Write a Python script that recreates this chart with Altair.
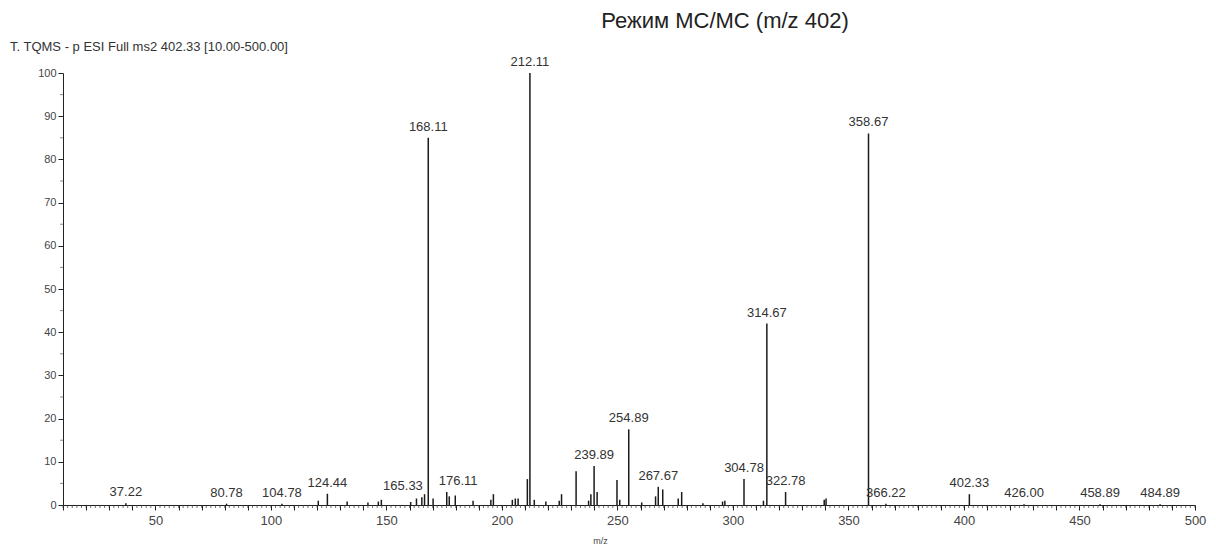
import altair as alt
import pandas as pd

# ---- data ----
peak_mz = [37.22, 80.78, 104.78, 120.5, 124.44, 133.0, 142.0, 146.5, 147.8, 160.5,
           163.0, 165.33, 166.5, 168.11, 170.2, 176.11, 177.2, 179.8, 187.5, 195.2,
           196.3, 204.5, 205.8, 207.0, 211.0, 212.11, 214.0, 219.0, 224.8, 225.8,
           232.1, 237.5, 238.5, 239.89, 241.2, 249.8, 251.0, 254.89, 260.5, 266.5,
           267.67, 269.6, 276.3, 277.8, 287.0, 295.5, 296.5, 304.78, 313.2, 314.67,
           322.78, 339.5, 340.3, 358.67, 366.22, 402.33, 426.00, 458.89, 484.89]
peak_int = [0.4, 0.3, 0.3, 1.0, 2.6, 0.8, 0.6, 0.8, 1.2, 0.7,
            1.5, 1.8, 2.5, 85.0, 1.5, 3.0, 2.0, 2.2, 1.0, 1.2,
            2.5, 1.2, 1.5, 1.5, 6.0, 100.0, 1.2, 0.8, 1.0, 2.5,
            7.8, 1.0, 2.5, 9.0, 3.0, 5.8, 1.2, 17.5, 0.6, 2.0,
            4.2, 3.6, 1.5, 3.0, 0.4, 0.8, 1.0, 6.0, 1.0, 42.0,
            3.0, 1.2, 1.5, 86.0, 0.3, 2.5, 0.2, 0.2, 0.2]

label_mz = [37.22, 80.78, 104.78, 124.44, 165.33, 168.11, 176.11, 212.11, 239.89,
            254.89, 267.67, 304.78, 314.67, 322.78, 358.67, 366.22, 402.33, 426.00,
            458.89, 484.89]
label_text = ["37.22", "80.78", "104.78", "124.44", "165.33", "168.11", "176.11",
              "212.11", "239.89", "254.89", "267.67", "304.78", "314.67", "322.78",
              "358.67", "366.22", "402.33", "426.00", "458.89", "484.89"]

x_ticks_major = list(range(10, 501, 10))   # labelled every 50
x_ticks_minor = list(range(10, 501, 2))
y_ticks_major = list(range(0, 101, 10))
y_ticks_minor = list(range(5, 100, 10))

title_text = "Режим МС/МС (m/z 402)"
header_text = "T. TQMS - p ESI Full ms2 402.33 [10.00-500.00]"

FONT = "Liberation Sans"

peaks = pd.DataFrame({"mz": peak_mz, "intensity": peak_int})
lookup = dict(zip(peak_mz, peak_int))
labels = pd.DataFrame({"mz": label_mz,
                       "intensity": [lookup[m] for m in label_mz],
                       "text": label_text})
header = pd.DataFrame({"t": [header_text]})
title_df = pd.DataFrame({"t": [title_text]})
xminor = pd.DataFrame({"mz": x_ticks_minor, "intensity": [0] * len(x_ticks_minor)})
yminor = pd.DataFrame({"intensity": y_ticks_minor, "mz": [10] * len(y_ticks_minor)})

xscale = alt.Scale(domain=[10, 500], nice=False, zero=False)
yscale = alt.Scale(domain=[0, 100], nice=False)

x_axis = alt.Axis(values=x_ticks_major, orient="bottom",
                  labelExpr="datum.value % 50 == 0 ? datum.label : ''",
                  labelOverlap=False, labelFlush=False, grid=False,
                  tickSize=5, tickColor="#222", domainColor="#222",
                  labelFont=FONT, labelFontSize=13, labelColor="#444",
                  labelPadding=4, title="m/z", titleFont=FONT,
                  titleFontSize=9, titleFontWeight="normal",
                  titleColor="#444", titleX=537, titleY=35,
                  titleBaseline="middle")
y_axis = alt.Axis(values=y_ticks_major, orient="left", grid=False,
                  labelOverlap=False, labelFlush=False,
                  tickSize=5, tickColor="#222", domainColor="#222",
                  labelFont=FONT, labelFontSize=11, labelColor="#444",
                  labelPadding=2, title="")

X = alt.X("mz:Q", scale=xscale, axis=x_axis)
Y = alt.Y("intensity:Q", scale=yscale, axis=y_axis)

rules = alt.Chart(peaks).mark_rule(color="#1a1a1a", strokeWidth=1.5).encode(
    x=X, y=Y, y2=alt.datum(0),
)

# minor ticks along the axes
xminor_ticks = alt.Chart(xminor).mark_tick(
    orient="vertical", size=3, thickness=1, color="#333", yOffset=1.5
).encode(x=X, y=Y)
yminor_ticks = alt.Chart(yminor).mark_tick(
    orient="horizontal", size=3, thickness=1, color="#555", xOffset=-1.5
).encode(x=X, y=Y)

base_text = alt.Chart(labels).mark_text(
    baseline="bottom", dy=-4, font=FONT, fontSize=13, color="#333"
).encode(x=X, y=Y, text="text:N")

texts_mid = base_text.transform_filter(
    "datum.text != '165.33' && datum.text != '176.11'")
texts_left = base_text.transform_filter("datum.text == '165.33'").mark_text(
    baseline="bottom", dy=-4, dx=1, align="right", font=FONT, fontSize=13,
    color="#333")
texts_right = base_text.transform_filter("datum.text == '176.11'").mark_text(
    baseline="bottom", dy=-4, dx=-8, align="left", font=FONT, fontSize=13,
    color="#333")

head = alt.Chart(header).mark_text(
    align="left", baseline="middle", font=FONT, fontSize=13, color="#333"
).encode(x=alt.value(-53), y=alt.value(-26), text="t:N")

title_mark = alt.Chart(title_df).mark_text(
    align="center", baseline="alphabetic", font=FONT, fontSize=22,
    color="#222"
).encode(x=alt.value(662), y=alt.value(-45), text="t:N")

chart = alt.layer(rules, xminor_ticks, yminor_ticks, texts_mid, texts_left,
                  texts_right, head, title_mark).properties(
    width=1132, height=432,
    autosize=alt.AutoSizeParams(type="none"),
    padding={"left": 55, "top": 65, "right": 13, "bottom": 41},
).configure_view(strokeWidth=0)

chart.save("out.html", embed_options={"renderer": "svg", "actions": False})
